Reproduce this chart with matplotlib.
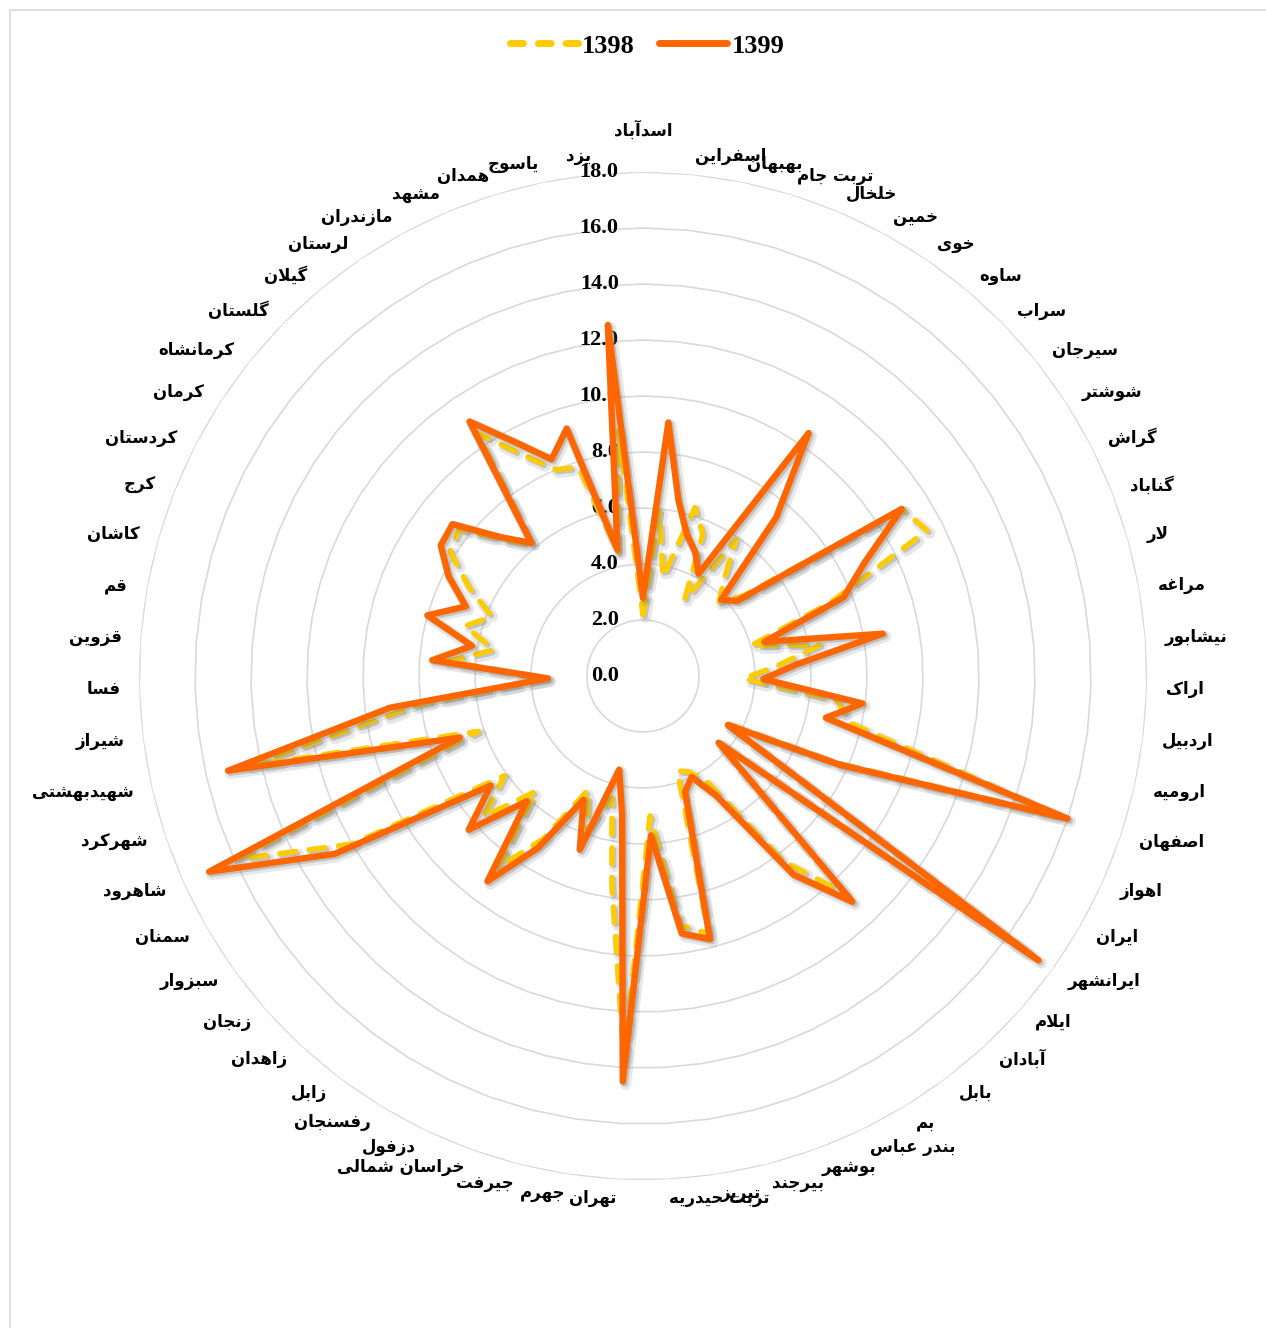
import numpy as np
import matplotlib
matplotlib.use("Agg")
from matplotlib import pyplot as plt
from matplotlib import patheffects as pe
from matplotlib.lines import Line2D
from matplotlib.patches import Rectangle

# city names, clockwise from the top
cities = ["اسدآباد", "اسفراین", "بهبهان", "تربت جام", "خلخال", "خمین", "خوی", "ساوه",
          "سراب", "سیرجان", "شوشتر", "گراش", "گناباد", "لار", "مراغه", "نیشابور",
          "اراک", "اردبیل", "ارومیه", "اصفهان", "اهواز", "ایران", "ایرانشهر", "ایلام",
          "آبادان", "بابل", "بم", "بندر عباس", "بوشهر", "بیرجند", "تبریز", "تربت حیدریه",
          "تهران", "جهرم", "جیرفت", "خراسان شمالی", "دزفول", "رفسنجان", "زابل", "زاهدان",
          "زنجان", "سبزوار", "سمنان", "شاهرود", "شهرکرد", "شهیدبهشتی", "شیراز", "فسا",
          "قزوین", "قم", "کاشان", "کرج", "کردستان", "کرمان", "کرمانشاه", "گلستان",
          "گیلان", "لرستان", "مازندران", "مشهد", "همدان", "یاسوج", "یزد"]

y1398 = [2.2, 5.9, 3.6, 6.3, 5.5, 3.1, 5.9, 4.5, 3.8, 4.6, 11.0, 11.4, 7.2, 4.0, 6.4, 4.8,
         3.6, 7.0, 7.6, 15.8, 7.5, 3.3, 17.1, 3.5, 10.6, 8.3, 4.5, 3.8, 3.6, 9.5, 9.0, 5.0,
         13.7, 7.5, 4.5, 5.8, 4.5, 6.8, 8.6, 5.6, 7.6, 6.1, 12.0, 15.9, 6.2, 14.4, 8.0, 3.4,
         7.0, 5.4, 6.6, 5.8, 7.0, 8.2, 8.4, 7.0, 6.1, 10.5, 9.0, 8.0, 7.8, 4.5, 8.8]

y1399 = [2.8, 9.1, 6.4, 5.3, 4.8, 4.15, 10.5, 7.4, 3.9, 4.3, 11.0, 8.9, 7.7, 4.5, 8.7, 5.5,
         4.3, 7.9, 6.7, 16.0, 7.7, 3.5, 17.4, 3.6, 11.0, 8.9, 5.0, 4.0, 4.4, 9.7, 9.3, 5.7,
         14.5, 5.0, 3.45, 6.6, 4.9, 7.2, 9.2, 6.1, 8.3, 6.7, 12.7, 17.0, 6.9, 15.2, 9.1, 3.4,
         7.55, 6.2, 8.0, 6.8, 7.8, 8.6, 8.7, 7.1, 6.2, 11.0, 9.5, 8.4, 9.25, 4.6, 12.6]

years = ["1398", "1399"]
rings = [0, 2, 4, 6, 8, 10, 12, 14, 16, 18]

# letter -> (isolated, final, initial, medial) presentation forms
FORMS = {
    0x0627: (0xFE8D, 0xFE8E, None, None),
    0x0622: (0xFE81, 0xFE82, None, None),
    0x0628: (0xFE8F, 0xFE90, 0xFE91, 0xFE92),
    0x067E: (0xFB56, 0xFB57, 0xFB58, 0xFB59),
    0x062A: (0xFE95, 0xFE96, 0xFE97, 0xFE98),
    0x062B: (0xFE99, 0xFE9A, 0xFE9B, 0xFE9C),
    0x062C: (0xFE9D, 0xFE9E, 0xFE9F, 0xFEA0),
    0x0686: (0xFB7A, 0xFB7B, 0xFB7C, 0xFB7D),
    0x062D: (0xFEA1, 0xFEA2, 0xFEA3, 0xFEA4),
    0x062E: (0xFEA5, 0xFEA6, 0xFEA7, 0xFEA8),
    0x062F: (0xFEA9, 0xFEAA, None, None),
    0x0630: (0xFEAB, 0xFEAC, None, None),
    0x0631: (0xFEAD, 0xFEAE, None, None),
    0x0632: (0xFEAF, 0xFEB0, None, None),
    0x0698: (0xFB8A, 0xFB8B, None, None),
    0x0633: (0xFEB1, 0xFEB2, 0xFEB3, 0xFEB4),
    0x0634: (0xFEB5, 0xFEB6, 0xFEB7, 0xFEB8),
    0x0635: (0xFEB9, 0xFEBA, 0xFEBB, 0xFEBC),
    0x0636: (0xFEBD, 0xFEBE, 0xFEBF, 0xFEC0),
    0x0637: (0xFEC1, 0xFEC2, 0xFEC3, 0xFEC4),
    0x0638: (0xFEC5, 0xFEC6, 0xFEC7, 0xFEC8),
    0x0639: (0xFEC9, 0xFECA, 0xFECB, 0xFECC),
    0x063A: (0xFECD, 0xFECE, 0xFECF, 0xFED0),
    0x0641: (0xFED1, 0xFED2, 0xFED3, 0xFED4),
    0x0642: (0xFED5, 0xFED6, 0xFED7, 0xFED8),
    0x06A9: (0xFB8E, 0xFB8F, 0xFB90, 0xFB91),
    0x0643: (0xFB8E, 0xFB8F, 0xFB90, 0xFB91),
    0x06AF: (0xFB92, 0xFB93, 0xFB94, 0xFB95),
    0x0644: (0xFEDD, 0xFEDE, 0xFEDF, 0xFEE0),
    0x0645: (0xFEE1, 0xFEE2, 0xFEE3, 0xFEE4),
    0x0646: (0xFEE5, 0xFEE6, 0xFEE7, 0xFEE8),
    0x0648: (0xFEED, 0xFEEE, None, None),
    0x0647: (0xFEE9, 0xFEEA, 0xFEEB, 0xFEEC),
    0x06CC: (0xFBFC, 0xFBFD, 0xFBFE, 0xFBFF),
    0x064A: (0xFBFC, 0xFBFD, 0xFBFE, 0xFBFF),
}
LAM_ALEF = {0x0627: (0xFEFB, 0xFEFC), 0x0622: (0xFEF5, 0xFEF6)}


def joins_next(ch):
    f = FORMS.get(ord(ch))
    return f is not None and f[2] is not None


def shape(word):
    # join the letters and flip them, since matplotlib lays text out left to right
    out = []
    i = 0
    while i < len(word):
        code = ord(word[i])
        if code not in FORMS:
            out.append(word[i])
            i += 1
            continue
        prev_join = i > 0 and joins_next(word[i - 1])
        if code == 0x0644 and i + 1 < len(word) and ord(word[i + 1]) in LAM_ALEF:
            lig = LAM_ALEF[ord(word[i + 1])]
            out.append(chr(lig[1] if prev_join else lig[0]))
            i += 2
            continue
        next_join = joins_next(word[i]) and i + 1 < len(word) and ord(word[i + 1]) in FORMS
        f = FORMS[code]
        if prev_join and next_join:
            g = f[3]
        elif prev_join:
            g = f[1]
        elif next_join:
            g = f[2]
        else:
            g = f[0]
        out.append(chr(g))
        i += 1
    return "".join(reversed(out))


W, H = 1266, 1328
cx, cy, R = 643, 676, 504

fig = plt.figure(figsize=(W / 100, H / 100), dpi=100)
ax = fig.add_axes([(cx - R) / W, (H - cy - R) / H, 2 * R / W, 2 * R / H], projection="polar")
ax.set_theta_zero_location("N")
ax.set_theta_direction(-1)
ax.set_ylim(0, 18)
ax.set_xticks([])
ax.set_yticks([])
ax.grid(False)
ax.spines["polar"].set_visible(False)
ax.patch.set_alpha(0)

n = len(cities)
theta = np.arange(n) * 2 * np.pi / n
loop = np.append(theta, theta[0])

# gridline rings
for r in rings[1:]:
    ax.plot(loop, [r] * (n + 1), color="#d9d9d9", lw=1.2, zorder=1)

shadow = [pe.SimpleLineShadow(offset=(2, -2), shadow_color="#7f7f7f", alpha=0.18, linewidth=8),
          pe.SimpleLineShadow(offset=(1.5, -1.5), shadow_color="#7f7f7f", alpha=0.35),
          pe.Normal()]

ax.plot(loop, y1398 + y1398[:1], color="#FFCC00", lw=3.8, dashes=(3, 2.6),
        dash_capstyle="round", solid_joinstyle="round", zorder=3, path_effects=shadow)
ax.plot(loop, y1399 + y1399[:1], color="#FF6600", lw=4.6, solid_capstyle="round",
        solid_joinstyle="round", zorder=4, path_effects=shadow)

# radial axis labels
for r in rings:
    ax.annotate(f"{r:.1f}", xy=(0, r), xytext=(-17.5, 0), textcoords="offset points",
                ha="right", va="center", fontsize=16, fontweight="bold",
                family="Liberation Serif", annotation_clip=False, zorder=2)

# category labels around the outer ring
for name, th in zip(cities, theta):
    s, c = np.sin(th), np.cos(th)
    if abs(s) < 1e-6:
        ha, dx, dy = "center", 0, 30 * c
    else:
        ha = "left" if s > 0 else "right"
        dx, dy = 13.5 * s, 13.5 * c
    ax.annotate(shape(name), xy=(th, 18), xytext=(dx, dy),
                textcoords="offset points", ha=ha, va="center", fontsize=12,
                fontweight="bold", family="DejaVu Sans", annotation_clip=False)

handles = [Line2D([], [], color="#FFCC00", lw=5, dashes=(1.86, 2.14), dash_capstyle="round"),
           Line2D([], [], color="#FF6600", lw=5, solid_capstyle="round")]
fig.legend(handles, years, loc="center", bbox_to_anchor=(647 / W, 1 - 46 / H), ncol=2,
           frameon=False, prop=dict(family="Liberation Serif", weight="bold", size=19),
           handlelength=2.6, handletextpad=0.15, columnspacing=0.9)

# chart area border
fig.add_artist(Rectangle((10 / W, -0.05), 1.2, 1.05 - 10 / H, transform=fig.transFigure,
                         fill=False, edgecolor="#d9d9d9", lw=1.2))

fig.savefig("out.png", dpi=100)
